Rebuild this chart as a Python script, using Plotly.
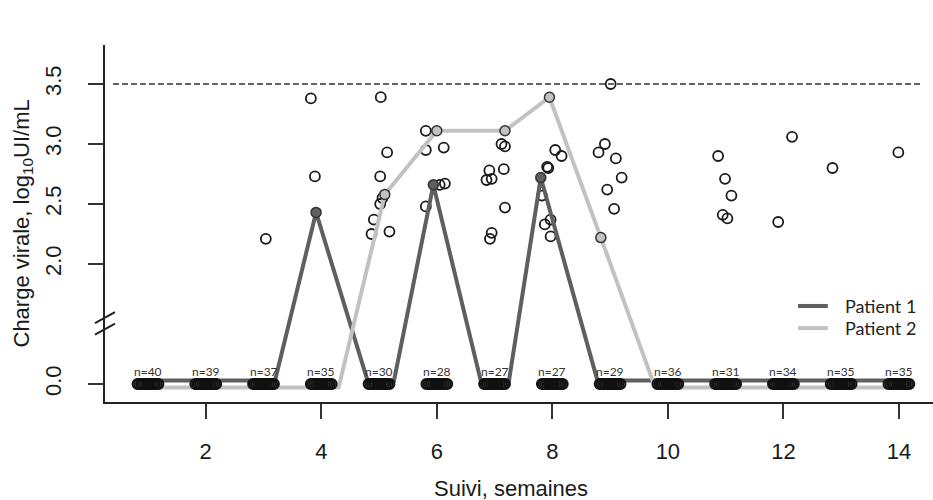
import plotly.graph_objects as go

# ---------------- data ----------------
WEEKS = list(range(1, 15))
N_ZERO = [40, 39, 37, 35, 30, 28, 27, 27, 29, 36, 31, 34, 35, 35]

# detectable viral loads (log10 UI/mL), jittered week positions as drawn
DET_X = [3.04,
         3.82, 3.89,
         5.03, 5.14, 5.02, 5.06, 5.02, 4.91, 4.87, 5.18,
         5.81, 5.81, 6.12, 6.05, 6.14, 5.81,
         7.12, 7.18, 6.91, 6.86, 6.95, 7.16, 7.18, 6.95, 6.92,
         8.05, 8.16, 7.91, 7.93, 7.82, 7.87, 7.97, 7.97,
         9.01, 8.80, 8.91, 9.10, 9.20, 8.95, 9.07,
         10.87, 10.99, 11.10, 10.95, 11.03,
         11.91, 12.15,
         12.85,
         13.99]
DET_Y = [2.21,
         3.38, 2.73,
         3.39, 2.93, 2.73, 2.55, 2.50, 2.37, 2.25, 2.27,
         3.11, 2.95, 2.97, 2.66, 2.67, 2.48,
         3.00, 2.98, 2.78, 2.70, 2.71, 2.79, 2.47, 2.26, 2.21,
         2.95, 2.90, 2.81, 2.80, 2.57, 2.33, 2.37, 2.23,
         3.50, 2.93, 3.00, 2.88, 2.72, 2.62, 2.46,
         2.90, 2.71, 2.57, 2.41, 2.38,
         2.35, 3.06,
         2.80,
         2.93]

# individual patients
P1_X = [1, 2, 3.2, 3.91, 4.8, 5.26, 5.94, 6.76, 7.25, 7.80, 8.78, 10, 11, 12, 13, 14]
P1_Y = [0, 0, 0, 2.43, 0, 0, 2.66, 0, 0, 2.72, 0, 0, 0, 0, 0, 0]
P2_X = [1, 2, 3, 4.3, 5.1, 6.0, 7.18, 7.95, 8.84, 9.78, 11, 12, 13, 14]
P2_Y = [0, 0, 0, 0, 2.58, 3.11, 3.11, 3.39, 2.22, 0, 0, 0, 0, 0]
PATIENT_NAMES = ["Patient 1", "Patient 2"]

X_TICKS = [2, 4, 6, 8, 10, 12, 14]
Y_TICKS = [0.0, 2.0, 2.5, 3.0, 3.5]
THRESHOLD = 3.5

# ---------------- broken-axis mapping ----------------
ZERO_POS = 1.0          # axis position where the value 0 is shown


def to_axis(v, zero_shift=0.0):
    return v if v > 0 else ZERO_POS + zero_shift


AXIS_FONT = dict(family="Liberation Sans, Arial, sans-serif", size=22, color="#1a1a1a")
SMALL_FONT = "Lato, Open Sans, sans-serif"
DARK = "#5f5f5f"
LIGHT = "#c2c2c2"

fig = go.Figure()

# detectable values: open circles
fig.add_trace(go.Scatter(
    x=DET_X, y=[to_axis(v) for v in DET_Y], mode="markers",
    marker=dict(symbol="circle-open", size=10, color="#1a1a1a", line=dict(width=1.8, color="#1a1a1a")),
    showlegend=False, hoverinfo="skip"))

# patient lines
fig.add_trace(go.Scatter(
    x=P1_X, y=[to_axis(v, 0.03) for v in P1_Y], mode="lines",
    line=dict(color=DARK, width=4), name=PATIENT_NAMES[0], showlegend=False))
fig.add_trace(go.Scatter(
    x=P2_X, y=[to_axis(v, -0.03) for v in P2_Y], mode="lines",
    line=dict(color=LIGHT, width=4), name=PATIENT_NAMES[1], showlegend=False))

# undetectable values (0): dense stacks of open circles per week
BLOB_OFFSETS = [-0.18, -0.15, -0.12, -0.09, -0.06, -0.03, 0, 0.03, 0.06, 0.09, 0.12, 0.15, 0.18]
bx, by = [], []
for w in WEEKS:
    for o in BLOB_OFFSETS:
        bx.append(w + o)
        by.append(to_axis(0))
fig.add_trace(go.Scatter(
    x=bx, y=by, mode="markers",
    marker=dict(symbol="circle-open", size=10, color="#111111", line=dict(width=2, color="#111111")),
    showlegend=False, hoverinfo="skip"))

# patient markers (detectable values)
p1 = [(x, y) for x, y in zip(P1_X, P1_Y) if y > 0]
p2 = [(x, y) for x, y in zip(P2_X, P2_Y) if y > 0]
fig.add_trace(go.Scatter(
    x=[p[0] for p in p1], y=[to_axis(p[1]) for p in p1], mode="markers",
    marker=dict(size=10, color=DARK, line=dict(width=1.5, color="#333333")),
    showlegend=False, hoverinfo="skip"))
fig.add_trace(go.Scatter(
    x=[p[0] for p in p2], y=[to_axis(p[1]) for p in p2], mode="markers",
    marker=dict(size=10, color=LIGHT, line=dict(width=1.5, color="#333333")),
    showlegend=False, hoverinfo="skip"))

# threshold line
fig.add_shape(type="line", xref="x", yref="y", x0=0.394, x1=14.415, y0=THRESHOLD, y1=THRESHOLD,
              line=dict(color="#333333", width=1.5, dash="6px,3px"))

# axis break marks
for yb in (1.554, 1.458):
    fig.add_shape(type="line", xref="paper", yref="y", xsizemode="pixel", ysizemode="pixel",
                  xanchor=0, yanchor=yb, x0=-10, x1=10, y0=-5.5, y1=5.5,
                  line=dict(color="#222222", width=2))

annotations = []
for w, n in zip(WEEKS, N_ZERO):
    annotations.append(dict(x=w, y=ZERO_POS, xref="x", yref="y", text=f"n={n}", showarrow=False,
                            yshift=13, font=dict(family=SMALL_FONT, size=12, color="#333333")))
annotations.append(dict(xref="paper", yref="paper", x=0, y=0.5, xshift=-83, xanchor="center",
                        yanchor="middle", textangle=-90,
                        text="Charge virale, log<sub>10</sub>UI/mL", showarrow=False, font=AXIS_FONT))
annotations.append(dict(xref="paper", yref="paper", x=0.49, y=0, yshift=-86, xanchor="center",
                        yanchor="middle", text="Suivi, semaines", showarrow=False, font=AXIS_FONT))

# legend (drawn as keys + labels)
LEG_Y = [0.269, 0.207]
for name, col, ly in zip(PATIENT_NAMES, [DARK, LIGHT], LEG_Y):
    fig.add_shape(type="line", xref="paper", yref="paper", x0=0.837, x1=0.873, y0=ly, y1=ly,
                  line=dict(color=col, width=4))
    annotations.append(dict(xref="paper", yref="paper", x=0.891, y=ly, xanchor="left", yanchor="middle",
                            text=name, showarrow=False,
                            font=dict(family=SMALL_FONT, size=18, color="#222222")))

fig.update_layout(
    width=933, height=500,
    margin=dict(l=105, r=0, t=45, b=98),
    paper_bgcolor="white", plot_bgcolor="white",
    annotations=annotations,
    showlegend=False,
    xaxis=dict(range=[0.256, 14.59], tickvals=X_TICKS, ticks="outside", ticklen=15, tickwidth=1.5,
               tickcolor="#333333", showline=True, linecolor="#222222", linewidth=1.8,
               showgrid=False, zeroline=False, tickfont=AXIS_FONT, ticklabelstandoff=14),
    yaxis=dict(range=[0.85, 3.825], tickvals=[to_axis(v) if v > 0 else ZERO_POS for v in Y_TICKS],
               ticktext=[f"{v:.1f}" for v in Y_TICKS], tickangle=-90, ticks="outside", ticklen=15,
               tickwidth=1.5, tickcolor="#333333", showline=True, linecolor="#222222", linewidth=1.8,
               showgrid=False, zeroline=False, tickfont=AXIS_FONT, ticklabelstandoff=18),
)

fig.write_html("out.html")
